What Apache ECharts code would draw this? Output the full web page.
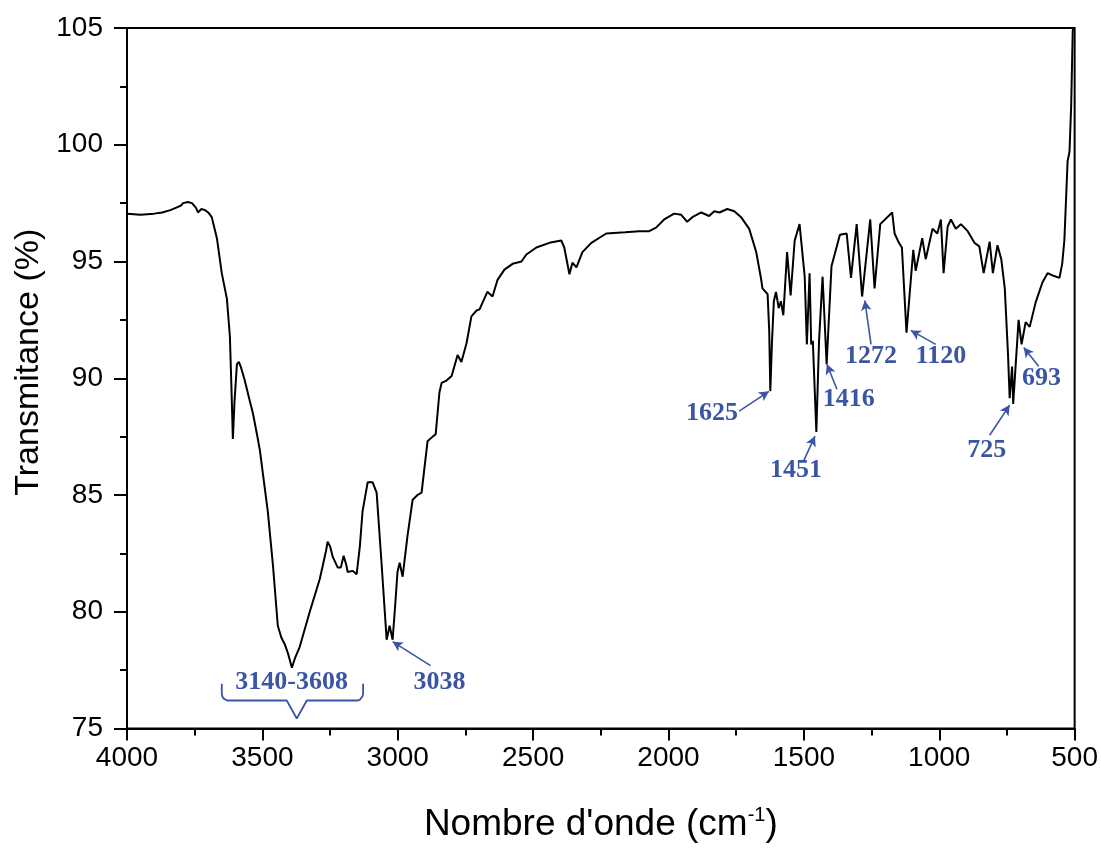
<!DOCTYPE html>
<html>
<head>
<meta charset="utf-8">
<script src="https://cdn.jsdelivr.net/npm/echarts@6/dist/echarts.min.js"></script>
<style>
html,body{margin:0;padding:0;background:#fff;}
#chart{width:1101px;height:848px;}
</style>
</head>
<body>
<div id="chart"></div>
<script>
// Wavenumbers (cm-1) and transmittance (%)
var wavenumbers = [4000,3950,3900,3870,3840,3820,3800,3793,3775,3760,3745,3738,3725,3712,3700,3687,3668,3650,3631,3620,3614,3609,3603,3594,3587,3580,3565,3546,3535,3520,3509,3498,3480,3461,3443,3430,3417,3405,3391,3380,3362,3325,3288,3265,3259,3250,3240,3233,3222,3210,3200,3190,3185,3166,3152,3140,3130,3111,3093,3078,3060,3041,3030,3019,3010,3001,2993,2982,2964,2945,2927,2912,2890,2871,2860,2846,2838,2820,2801,2779,2765,2746,2728,2709,2698,2669,2650,2632,2606,2576,2543,2525,2488,2440,2396,2385,2375,2366,2355,2340,2318,2285,2230,2160,2108,2071,2046,2016,1979,1953,1931,1912,1879,1850,1831,1812,1783,1757,1732,1702,1676,1658,1653,1634,1628,1624,1618,1611,1603,1593,1585,1576,1562,1549,1534,1516,1497,1489,1479,1473,1467,1460,1454,1444,1431,1416,1398,1367,1342,1326,1305,1285,1255,1239,1218,1174,1165,1149,1138,1121,1096,1087,1063,1050,1025,1007,994,984,969,957,939,920,895,870,852,836,814,802,785,771,758,746,740,731,727,707,696,681,666,644,619,600,581,556,546,538,526,519,513,507,503];
var transmittance = [97.05,97.0,97.05,97.1,97.2,97.3,97.4,97.5,97.55,97.5,97.3,97.1,97.25,97.2,97.1,96.9,96.0,94.5,93.4,91.8,89.5,87.4,89.0,90.6,90.7,90.5,89.9,89.0,88.5,87.6,86.9,85.9,84.3,82.0,79.4,78.9,78.6,78.2,77.6,78.0,78.5,80.0,81.4,82.6,83.0,82.8,82.35,82.4,81.9,81.9,82.4,82.0,81.7,81.75,81.6,82.8,84.3,85.55,85.55,85.1,82.1,78.8,79.4,78.8,80.2,81.7,82.1,81.5,83.25,84.8,85.0,85.1,87.3,87.5,87.6,89.4,89.8,89.9,90.1,91.0,90.7,91.5,92.65,92.9,92.95,93.7,93.5,94.2,94.65,94.9,95.0,95.3,95.6,95.8,95.9,95.6,95.0,94.45,94.95,94.75,95.4,95.8,96.2,96.25,96.3,96.3,96.45,96.8,97.05,97.0,96.7,96.9,97.1,96.95,97.15,97.1,97.25,97.15,96.9,96.4,95.4,94.25,93.85,93.6,92.0,89.45,91.5,93.3,93.7,93.0,93.3,92.7,95.4,93.55,95.9,96.6,94.35,91.45,94.5,91.45,91.6,89.5,87.7,91.6,94.35,90.6,94.8,96.15,96.2,94.3,96.6,93.5,96.8,93.85,96.6,97.1,96.2,95.8,95.6,91.95,95.5,94.6,96.0,95.1,96.4,96.2,96.8,94.5,96.5,96.8,96.4,96.6,96.3,95.8,95.65,94.5,95.85,94.5,95.7,95.1,93.85,91.0,89.15,90.5,88.9,92.5,91.45,92.4,92.2,93.25,94.1,94.5,94.4,94.3,94.9,95.9,99.3,99.7,101.6,104.9,105.0];

// Tick labels
var xTicks = [4000,3500,3000,2500,2000,1500,1000,500];
var yTicks = [75,80,85,90,95,100,105];

// Peak annotations: label text, label anchor, arrow tail and arrow tip (data units)
var peakLabels = ['3038','1625','1451','1416','1272','1120','725','693'];
var labelAt = [[2846,76.97],[1839,88.5],[1529,86.07],[1334,89.1],[1252,90.94],[994,90.94],[825,86.92],[622,90.0]];
var arrowTail = [[2879,77.69],[1739,88.59],[1503,86.41],[1378,89.53],[1252,91.45],[1013,91.45],[814,87.56],[633,90.51]];
var arrowTip = [[3019,78.72],[1629,89.44],[1459,87.52],[1415,90.6],[1275,93.33],[1105,92.05],[740,88.85],[688,91.32]];

// Broad band bracket
var bandLabel = '3140-3608';
var bandLabelAt = [3392,76.97];
var bracketX = [3650,3650,3648,3644,3638,3630,3410,3373,3336,3148,3140,3134,3130,3128,3128];
var bracketY = [76.92,76.5,76.38,76.29,76.23,76.2,76.2,75.43,76.2,76.2,76.23,76.29,76.38,76.5,76.92];

var blue = '#3b55a6';
var spectrum = wavenumbers.map(function(w,i){return [w, transmittance[i]];});
var bracket = bracketX.map(function(x,i){return [x, bracketY[i]];});
var labelData = peakLabels.map(function(t,i){return [labelAt[i][0], labelAt[i][1], t];});
labelData.push([bandLabelAt[0], bandLabelAt[1], bandLabel]);
var arrows = arrowTail.map(function(t,i){return [{coord:t},{coord:arrowTip[i]}];});

var chart = echarts.init(document.getElementById('chart'), null, {renderer:'canvas'});
chart.setOption({
  animation:false,
  backgroundColor:'#fff',
  grid:{left:127, right:26, top:28, bottom:118, show:true, borderColor:'#000', borderWidth:2, backgroundColor:'transparent'},
  xAxis:{
    type:'value', min:500, max:4000, interval:500, inverse:true,
    name:'Nombre d\'onde (cm{sup|-1})',
    nameLocation:'middle', nameGap:77,
    nameTextStyle:{fontFamily:'Liberation Sans', fontSize:37, color:'#000',
      rich:{sup:{fontFamily:'Liberation Sans', fontSize:20, color:'#000', verticalAlign:'top', padding:[0,0,18,0]}}},
    axisLine:{show:true, lineStyle:{color:'#000', width:2}},
    axisTick:{show:true, inside:false, length:12, lineStyle:{color:'#000', width:2}},
    minorTick:{show:true, splitNumber:2, length:7, lineStyle:{color:'#000', width:2}},
    splitLine:{show:false},
    axisLabel:{fontFamily:'Liberation Sans', fontSize:28, color:'#000', margin:16,
      formatter:function(v){return xTicks.indexOf(v)>=0 ? String(v) : '';}}
  },
  yAxis:{
    type:'value', min:75, max:105, interval:5,
    name:'Transmitance (%)',
    nameLocation:'middle', nameGap:76, nameRotate:90,
    nameTextStyle:{fontFamily:'Liberation Sans', fontSize:34, color:'#000', padding:[0,0,0,32]},
    axisLine:{show:true, lineStyle:{color:'#000', width:2}},
    axisTick:{show:true, inside:false, length:13, lineStyle:{color:'#000', width:2}},
    minorTick:{show:true, splitNumber:2, length:7, lineStyle:{color:'#000', width:2}},
    splitLine:{show:false},
    axisLabel:{fontFamily:'Liberation Sans', fontSize:28, color:'#000', margin:24,
      formatter:function(v){return yTicks.indexOf(v)>=0 ? String(v) : '';}}
  },
  series:[
    {
      type:'line', data:spectrum, showSymbol:false, smooth:false,
      lineStyle:{color:'#000', width:2}, z:3,
      markLine:{
        silent:true, symbol:['none','arrow'], symbolSize:[8,10],
        lineStyle:{color:blue, width:1.6, type:'solid'},
        label:{show:false},
        data:arrows
      }
    },
    {
      type:'line', data:bracket, showSymbol:false, smooth:false,
      lineStyle:{color:blue, width:1.8}, z:4
    },
    {
      type:'scatter', data:labelData, symbolSize:2,
      itemStyle:{color:'rgba(0,0,0,0)'}, z:5,
      label:{show:true, position:'inside', color:blue, opacity:1,
        textBorderWidth:0, textBorderColor:'transparent',
        fontFamily:'Liberation Serif', fontWeight:'bold', fontSize:26,
        formatter:function(p){return p.data[2];}}
    }
  ]
});
</script>
</body>
</html>
